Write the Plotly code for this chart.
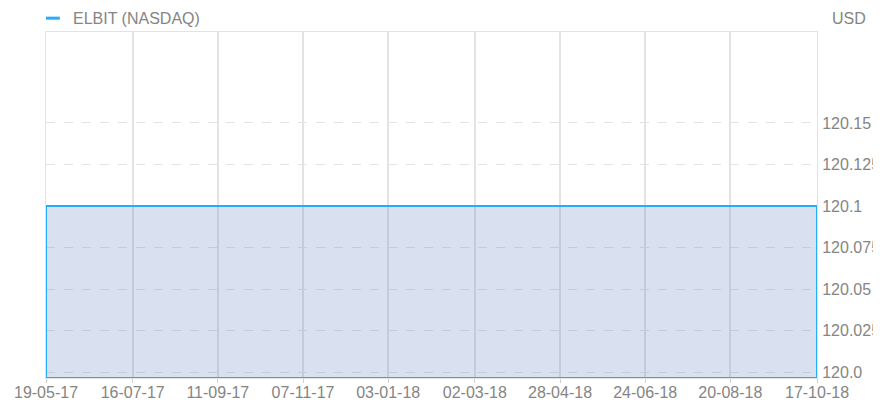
import plotly.graph_objects as go

# ELBIT (NASDAQ) closing price, USD
dates = ["2017-05-19", "2017-07-16", "2017-09-11", "2017-11-07", "2018-01-03",
         "2018-03-02", "2018-04-28", "2018-06-24", "2018-08-20", "2018-10-17"]
prices = [120.1, 120.1, 120.1, 120.1, 120.1, 120.1, 120.1, 120.1, 120.1, 120.1]

tick_dates = ["2017-05-19", "2017-07-16", "2017-09-11", "2017-11-07", "2018-01-03",
              "2018-03-02", "2018-04-28", "2018-06-24", "2018-08-20", "2018-10-17"]
tick_text = ["19-05-17", "16-07-17", "11-09-17", "07-11-17", "03-01-18",
             "02-03-18", "28-04-18", "24-06-18", "20-08-18", "17-10-18"]
y_ticks = [120.0, 120.025, 120.05, 120.075, 120.1, 120.125, 120.15]
y_text = ["120.0", "120.025", "120.05", "120.075", "120.1", "120.125", "120.15"]

y_min, y_max = 119.9964, 120.2048
line_color = "#27acfa"
text_color = "#858585"
grid_color = "#e3e3e3"

# Closed area polygon: series on top, axis floor underneath
poly_x = [dates[0]] + dates + [dates[-1], dates[0]]
poly_y = [y_min] + prices + [y_min, y_min]

fig = go.Figure()
fig.add_trace(go.Scatter(
    x=poly_x, y=poly_y, mode="lines", fill="toself",
    fillcolor="rgba(103,135,195,0.25)",
    line=dict(color=line_color, width=2),
    showlegend=False, hoverinfo="skip",
))

font = dict(family="Liberation Sans, Arial, sans-serif", size=16, color=text_color)

fig.update_layout(
    width=887, height=402,
    margin=dict(l=46, r=70, t=32, b=24, autoexpand=False),
    paper_bgcolor="white", plot_bgcolor="white",
    font=font,
    showlegend=False,
    xaxis=dict(
        type="date", range=[dates[0], dates[-1]],
        tickvals=tick_dates, ticktext=tick_text,
        showgrid=True, gridcolor=grid_color, gridwidth=1.5,
        ticks="outside", ticklen=4, tickcolor="#d0d0d0",
        ticklabelstandoff=-4,
        showline=True, linecolor=grid_color, mirror=True,
        zeroline=False, tickfont=font, automargin=False,
    ),
    yaxis=dict(
        side="right", range=[y_min, y_max],
        tickvals=y_ticks, ticktext=y_text,
        showgrid=True, gridcolor=grid_color, griddash="dash", gridwidth=1,
        ticks="", ticklabelstandoff=1,
        showline=True, linecolor=grid_color, mirror=True,
        zeroline=False, tickfont=font, automargin=False,
    ),
    shapes=[
        dict(type="line", xref="paper", yref="paper",
             x0=0.0, x1=0.018, y0=1.04, y1=1.04,
             line=dict(color=line_color, width=3)),
        # the right-hand label column is clipped to its container width
        dict(type="rect", xref="paper", yref="paper", layer="above",
             x0=1.0726, x1=1.2, y0=-0.2, y1=1.0,
             fillcolor="white", line=dict(width=0)),
    ],
    annotations=[
        dict(text="ELBIT (NASDAQ)", xref="paper", yref="paper",
             x=0.033, y=1.04, xanchor="left", yanchor="middle",
             showarrow=False, font=font),
        dict(text="USD", xref="paper", yref="paper",
             x=1.041, y=1.04, xanchor="center", yanchor="middle",
             showarrow=False, font=font),
    ],
)

fig.write_html("out.html")
